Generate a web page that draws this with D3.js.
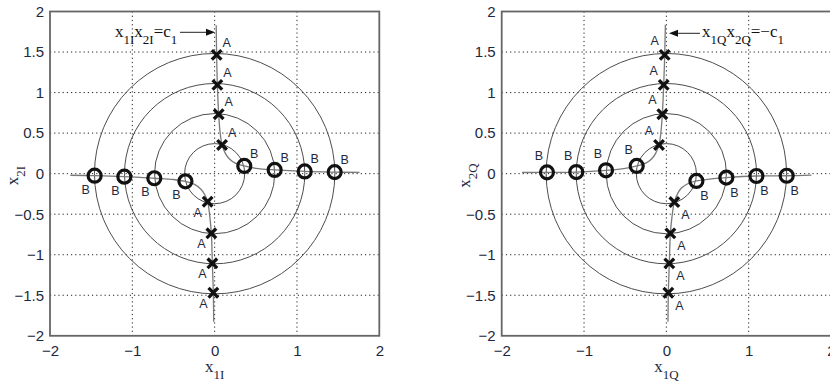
<!DOCTYPE html>
<html>
<head>
<meta charset="utf-8">
<script src="https://cdn.jsdelivr.net/npm/d3@7"></script>
<style>
  body { margin: 0; background: #fff; }
  svg { display: block; }
</style>
</head>
<body>
<svg id="chart" width="830" height="386"></svg>
<script>
// ---- axis ticks ----
const xTicks = [-2, -1, 0, 1, 2];
const yTicks = [-2, -1.5, -1, -0.5, 0, 0.5, 1, 1.5, 2];

// ---- constant-amplitude contours (radius) ----
const radii = [0.365, 0.73, 1.095, 1.46];

// ---- in-phase plane: x1I * x2I = c1 ----
const curveUpperI = [[0.019, 1.83], [0.024, 1.465], [0.033, 1.095], [0.049, 0.733], [0.065, 0.52],
  [0.09, 0.354], [0.13, 0.25], [0.18, 0.18], [0.25, 0.13], [0.36, 0.095], [0.5, 0.066],
  [0.729, 0.046], [1.094, 0.027], [1.458, 0.019], [1.76, 0.016]];
const curveLowerI = [[-0.012, -1.827], [-0.016, -1.469], [-0.028, -1.106], [-0.04, -0.736], [-0.06, -0.52],
  [-0.085, -0.346], [-0.12, -0.26], [-0.17, -0.19], [-0.25, -0.13], [-0.355, -0.095], [-0.5, -0.072],
  [-0.733, -0.057], [-1.097, -0.037], [-1.458, -0.025], [-1.753, -0.02]];
const aUpperI = [[0.024, 1.465], [0.033, 1.095], [0.049, 0.733], [0.09, 0.354]];
const aLowerI = [[-0.085, -0.346], [-0.04, -0.736], [-0.028, -1.106], [-0.016, -1.469]];
const bUpperI = [[0.36, 0.095], [0.729, 0.046], [1.094, 0.027], [1.458, 0.019]];
const bLowerI = [[-0.355, -0.095], [-0.733, -0.057], [-1.097, -0.037], [-1.458, -0.025]];

// ---- quadrature plane: x1Q * x2Q = -c1 ----
const curveUpperQ = [[-0.012, 1.835], [-0.02, 1.465], [-0.032, 1.095], [-0.049, 0.733], [-0.065, 0.52],
  [-0.089, 0.354], [-0.13, 0.25], [-0.18, 0.18], [-0.25, 0.13], [-0.36, 0.095], [-0.5, 0.065],
  [-0.733, 0.041], [-1.094, 0.02], [-1.45, 0.016], [-1.754, 0.014]];
const curveLowerQ = [[0.02, -1.827], [0.024, -1.469], [0.036, -1.107], [0.049, -0.737], [0.07, -0.52],
  [0.097, -0.35], [0.14, -0.24], [0.18, -0.18], [0.26, -0.125], [0.365, -0.09], [0.5, -0.07],
  [0.729, -0.049], [1.094, -0.029], [1.462, -0.026], [1.762, -0.018]];
const aUpperQ = [[-0.02, 1.465], [-0.032, 1.095], [-0.049, 0.733], [-0.089, 0.354]];
const aLowerQ = [[0.097, -0.35], [0.049, -0.737], [0.036, -1.107], [0.024, -1.469]];
const bUpperQ = [[-1.45, 0.016], [-1.094, 0.02], [-0.733, 0.041], [-0.36, 0.095]];
const bLowerQ = [[0.365, -0.09], [0.729, -0.049], [1.094, -0.029], [1.462, -0.026]];

// ---- text ----
const labelA = "A", labelB = "B";
const xLabelI = [["x", 0], ["1I", 1]], yLabelI = [["x", 0], ["2I", 1]];
const xLabelQ = [["x", 0], ["1Q", 1]], yLabelQ = [["x", 0], ["2Q", 1]];
const noteI = [["x", 0], ["1I", 1], ["x", 0], ["2I", 1], ["=c", 0], ["1", 1]];
const noteQ = [["x", 0], ["1Q", 1], ["x", 0], ["2Q", 1], ["=\u2212c", 0], ["1", 1]];

const textColor = "#1e2840";
const svg = d3.select("#chart");
const fmt = d3.format("~g");

const panels = [
  {
    left: 50, right: 379.3,
    curves: [curveUpperI, curveLowerI],
    groups: [
      { pts: aUpperI, kind: "x", text: labelA, off: [10, -12] },
      { pts: aLowerI, kind: "x", text: labelA, off: [-10, 11] },
      { pts: bUpperI, kind: "o", text: labelB, off: [10, -12] },
      { pts: bLowerI, kind: "o", text: labelB, off: [-9, 14] }
    ],
    xLabel: xLabelI, yLabel: yLabelI, yLabelX: 15,
    note: noteI, noteX: 115, noteY: 36.5,
    arrow: { from: 180, to: 215, y: 32.3 }
  },
  {
    left: 501.7, right: 831,
    curves: [curveUpperQ, curveLowerQ],
    groups: [
      { pts: aUpperQ, kind: "x", text: labelA, off: [-10, -14] },
      { pts: aLowerQ, kind: "x", text: labelA, off: [11, 13] },
      { pts: bUpperQ, kind: "o", text: labelB, off: [-8, -16] },
      { pts: bLowerQ, kind: "o", text: labelB, off: [8, 15] }
    ],
    xLabel: xLabelQ, yLabel: yLabelQ, yLabelX: 467,
    note: noteQ, noteX: 702, noteY: 37,
    arrow: { from: 700, to: 669, y: 33.3 }
  }
];

const plotTop = 11.5, plotBottom = 335.8;

// writes a label made of normal and subscript pieces into a <text>
function subText(sel, parts, mainSize, subSize, shift) {
  let low = false;
  parts.forEach(([s, sub]) => {
    const t = sel.append("tspan").text(s)
      .attr("font-size", sub ? subSize : mainSize);
    if (sub && !low) { t.attr("dy", shift); low = true; }
    else if (!sub && low) { t.attr("dy", -shift); low = false; }
  });
}

panels.forEach(p => {
  const x = d3.scaleLinear().domain([-2, 2]).range([p.left, p.right]);
  const y = d3.scaleLinear().domain([-2, 2]).range([plotBottom, plotTop]);
  const g = svg.append("g");

  // dotted grid
  g.append("g").selectAll("line").data(xTicks.slice(1, -1)).join("line")
    .attr("x1", d => x(d)).attr("x2", d => x(d))
    .attr("y1", plotTop).attr("y2", plotBottom)
    .attr("stroke", "#222").attr("stroke-width", 1).attr("stroke-dasharray", "1.2,3");
  g.append("g").selectAll("line").data(yTicks.slice(1, -1)).join("line")
    .attr("y1", d => y(d)).attr("y2", d => y(d))
    .attr("x1", p.left).attr("x2", p.right)
    .attr("stroke", "#222").attr("stroke-width", 1).attr("stroke-dasharray", "1.2,3");

  // contour circles
  g.append("g").selectAll("circle").data(radii).join("circle")
    .attr("cx", x(0)).attr("cy", y(0))
    .attr("r", d => x(d) - x(0))
    .attr("fill", "none").attr("stroke", "#4d4d4d").attr("stroke-width", 1);

  // product-constant curves
  const line = d3.line().x(d => x(d[0])).y(d => y(d[1])).curve(d3.curveCatmullRom.alpha(0.5));
  g.append("g").selectAll("path").data(p.curves).join("path")
    .attr("d", line).attr("fill", "none")
    .attr("stroke", "#7a7a7a").attr("stroke-width", 1.3);

  // markers and their labels
  p.groups.forEach(gr => {
    const m = g.append("g");
    if (gr.kind === "x") {
      const s = 4.8;
      m.selectAll("path").data(gr.pts).join("path")
        .attr("d", d => `M${x(d[0]) - s},${y(d[1]) - s}L${x(d[0]) + s},${y(d[1]) + s}M${x(d[0]) - s},${y(d[1]) + s}L${x(d[0]) + s},${y(d[1]) - s}`)
        .attr("stroke", "#111").attr("stroke-width", 3.3).attr("fill", "none");
    } else {
      m.selectAll("circle").data(gr.pts).join("circle")
        .attr("cx", d => x(d[0])).attr("cy", d => y(d[1])).attr("r", 6.5)
        .attr("fill", "none").attr("stroke", "#111").attr("stroke-width", 3.2);
    }
    m.selectAll("text").data(gr.pts).join("text")
      .attr("x", d => x(d[0]) + gr.off[0]).attr("y", d => y(d[1]) + gr.off[1])
      .attr("text-anchor", "middle").attr("dominant-baseline", "central")
      .attr("font-family", "Liberation Sans, Arial, sans-serif").attr("font-size", 12.5)
      .attr("fill", textColor).text(gr.text);
  });

  // frame
  g.append("rect").attr("x", p.left).attr("y", plotTop)
    .attr("width", p.right - p.left).attr("height", plotBottom - plotTop)
    .attr("fill", "none").attr("stroke", "#666").attr("stroke-width", 1.8);

  // tick labels
  const ax = g.append("g").attr("transform", `translate(0,${plotBottom})`)
    .call(d3.axisBottom(x).tickValues(xTicks).tickFormat(fmt).tickSize(0).tickPadding(10));
  const ay = g.append("g").attr("transform", `translate(${p.left},0)`)
    .call(d3.axisLeft(y).tickValues(yTicks).tickFormat(fmt).tickSize(0).tickPadding(6));
  [ax, ay].forEach(a => {
    a.select(".domain").remove();
    a.selectAll("text").attr("font-family", "Liberation Sans, Arial, sans-serif")
      .attr("font-size", 15).attr("fill", textColor);
  });

  // axis titles
  const xt = g.append("text").attr("x", x(0)).attr("y", 371.5)
    .attr("text-anchor", "middle").attr("font-family", "Liberation Serif, Times New Roman, serif")
    .attr("fill", textColor);
  subText(xt, p.xLabel, 17, 13, 7);
  const yt = g.append("text")
    .attr("transform", `translate(${p.yLabelX + 3},${y(0) + 2}) rotate(-90)`)
    .attr("text-anchor", "middle").attr("font-family", "Liberation Serif, Times New Roman, serif")
    .attr("fill", textColor);
  subText(yt, p.yLabel, 17, 13, 7);

  // curve annotation with arrow
  const nt = g.append("text").attr("x", p.noteX).attr("y", p.noteY)
    .attr("font-family", "Liberation Serif, Times New Roman, serif").attr("fill", "#111");
  subText(nt, p.note, 17, 13, 7);
  const a = p.arrow, dir = Math.sign(a.to - a.from), head = 9;
  g.append("line").attr("x1", a.from).attr("x2", a.to - dir * head)
    .attr("y1", a.y).attr("y2", a.y).attr("stroke", "#222").attr("stroke-width", 1);
  g.append("path")
    .attr("d", `M${a.to},${a.y}L${a.to - dir * head},${a.y - 3.5}L${a.to - dir * head},${a.y + 3.5}Z`)
    .attr("fill", "#111");
});
</script>
</body>
</html>
